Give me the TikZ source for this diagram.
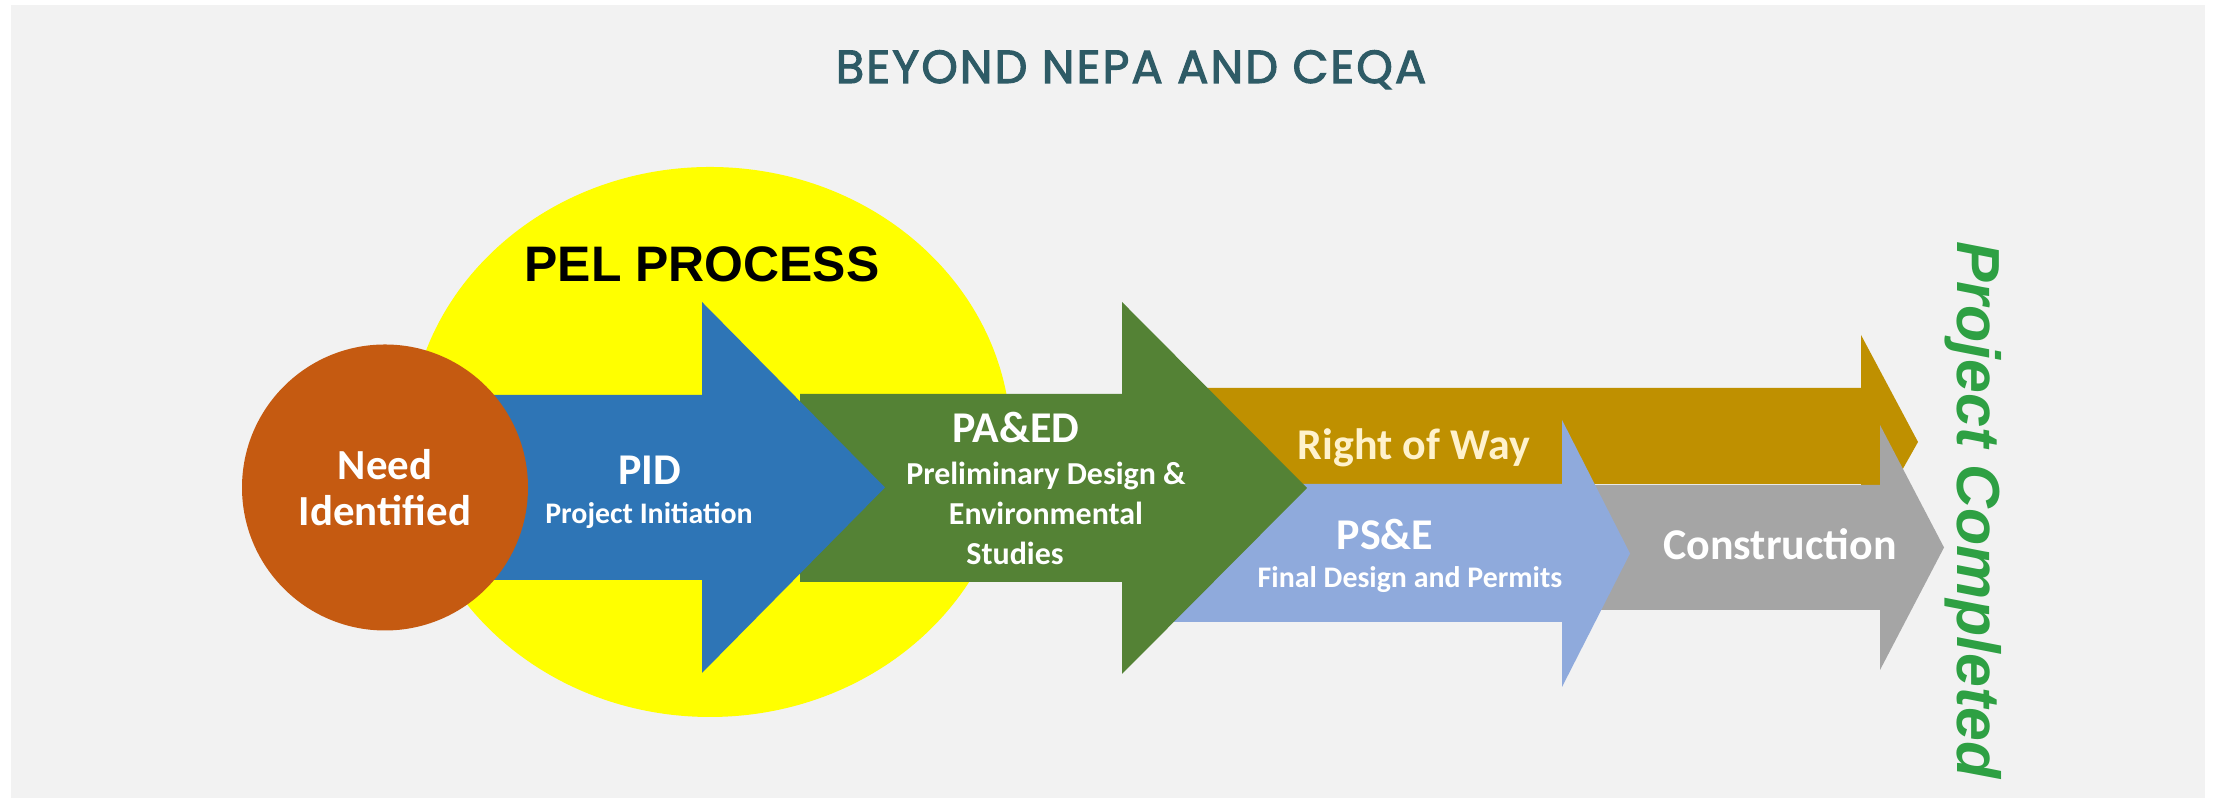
\documentclass[tikz,border=0pt]{standalone}
\usepackage{fontspec}
\setmainfont{Carlito}
\newfontfamily\titlefont[FakeBold=2.4, LetterSpace=4.5]{Poppins}
\newfontfamily\arialfont{Liberation Sans}
\usetikzlibrary{positioning}

\definecolor{pageback}{HTML}{F2F2F2}
\definecolor{titleteal}{HTML}{2E5B66}
\definecolor{pelyellow}{HTML}{FFFF00}
\definecolor{needorange}{HTML}{C55A11}
\definecolor{pidblue}{HTML}{2E75B6}
\definecolor{paedgreen}{HTML}{548235}
\definecolor{rowgold}{HTML}{BF9000}
\definecolor{pselight}{HTML}{8FAADC}
\definecolor{constgray}{HTML}{A5A5A5}
\definecolor{rowcream}{HTML}{FFF2CC}
\definecolor{donegreen}{HTML}{2EA043}

\begin{document}
\begin{tikzpicture}[
      stage/.style={text=white, inner sep=0pt, anchor=base, font=\bfseries\fontsize{12.5}{15}\selectfont},
      sub/.style={text=white, inner sep=0pt, anchor=base, font=\bfseries\fontsize{8.5}{10}\selectfont}
    ]
    % Hintergrund mit hellem Rand
    \fill[white] (0,0) rectangle (22.14,7.98);
    \fill[pageback] (0.11,0) rectangle (22.05,7.93);
    \useasboundingbox (0,0) rectangle (22.14,7.98);

    \node[anchor=base, inner sep=0pt, text=titleteal, font=\titlefont\fontsize{13.2}{15}\selectfont]
      (title) at (11.31,7.15) {BEYOND NEPA AND CEQA};

    % PEL-Bereich hinter allem
    \fill[pelyellow] (7.10,3.56) ellipse [x radius=3.01, y radius=2.75];
    \node[anchor=base, inner sep=0pt, font=\arialfont\bfseries\fontsize{14.2}{17}\selectfont]
      (pel) at (7.02,5.16) {PEL PROCESS};

    % Phasen-Pfeile, von hinten nach vorne
    \fill[rowgold]   (11.60,4.10) -- (18.61,4.10) -- (18.61,4.63) -- (19.18,3.56)
                     -- (18.61,2.55) -- (18.61,3.14) -- (11.60,3.14) -- cycle;
    \fill[constgray] (15.00,3.13) -- (18.80,3.13) -- (18.80,3.73) -- (19.44,2.505)
                     -- (18.80,1.28) -- (18.80,1.88) -- (15.00,1.88) -- cycle;
    \fill[pselight]  (11.60,3.14) -- (15.62,3.14) -- (15.62,3.78) -- (16.30,2.445)
                     -- (15.62,1.11) -- (15.62,1.76) -- (11.60,1.76) -- cycle;
    \fill[paedgreen] (8.00,4.04) -- (11.22,4.04) -- (11.22,4.96) -- (13.07,3.10)
                     -- (11.22,1.24) -- (11.22,2.16) -- (8.00,2.16) -- cycle;
    \fill[pidblue]   (4.50,4.03) -- (7.02,4.03) -- (7.02,4.96) -- (8.85,3.105)
                     -- (7.02,1.25) -- (7.02,2.18) -- (4.50,2.18) -- cycle;

    \node[circle, fill=needorange, minimum size=2.86cm, inner sep=0pt, text=white, align=center,
          font=\bfseries\fontsize{12.2}{13.2}\selectfont] (need) at (3.85,3.105) {Need\\Identified};

    % Beschriftungen der Phasen
    \node[stage] (pid) at (6.50,3.13) {PID};
    \node[sub]   (pidsub) at (6.49,2.74) {Project Initiation};

    \node[stage] (paed) at (10.16,3.55) {PA\&ED};
    \node[sub, anchor=north, align=center, font=\bfseries\fontsize{9.1}{11.4}\selectfont]
      (paedsub) at (10.46,3.37) {Preliminary Design \&\\Environmental\\Studies\hspace*{0.62cm}};

    \node[stage, text=rowcream] (row) at (14.14,3.38) {Right of Way};
    \node[stage] (pse) at (13.85,2.48) {PS\&E};
    \node[sub]   (psesub) at (14.10,2.10) {Final Design and Permits};
    \node[stage] (cons) at (17.80,2.38) {Construction};

    \node[rotate=-90, inner sep=0pt, text=donegreen, font=\arialfont\bfseries\itshape\fontsize{17.3}{20}\selectfont]
      (done) at (19.73,2.88) {Project Completed};
  \end{tikzpicture}
\end{document}
